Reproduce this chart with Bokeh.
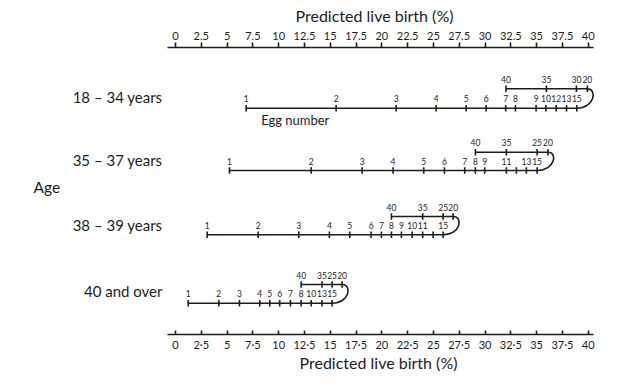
from bokeh.plotting import figure
from bokeh.models import (ColumnDataSource, LinearAxis, FixedTicker, Range1d,
                          LabelSet, Label, Title)
from bokeh.core.properties import value
from bokeh.embed import file_html
from bokeh.resources import INLINE

# ---------------- data ----------------
AGE_GROUPS = ["18 \u2013 34 years", "35 \u2013 37 years", "38 \u2013 39 years", "40 and over"]

# lower arm of each egg-number scale: egg count label and predicted live birth (%)
EGG_LOWER_LABELS = [
    ["1", "2", "3", "4", "5", "6", "7", "8", "9", "10", "12", "13", "15"],
    ["1", "2", "3", "4", "5", "6", "7", "8", "9", "11", "", "13", "15"],
    ["1", "2", "3", "4", "5", "6", "7", "8", "9", "10", "11", "", "15"],
    ["1", "2", "3", "4", "5", "6", "7", "8", "10", "13", "15"],
]
EGG_LOWER_PCT = [
    [6.85, 15.57, 21.39, 25.26, 28.17, 30.11, 32.0, 32.95, 34.95, 35.9, 36.9, 37.9, 38.9],
    [5.23, 13.15, 18.09, 21.09, 24.06, 26.07, 28.03, 29.07, 29.97, 32.07, 33.04, 34.01, 35.05],
    [3.07, 8.01, 11.95, 14.92, 16.89, 18.96, 19.96, 20.93, 21.9, 22.94, 23.96, 24.97, 25.94],
    [1.23, 4.2, 6.2, 8.17, 9.14, 10.1, 11.14, 12.18, 13.15, 14.2, 15.18],
]
# upper (returning) arm: egg counts 40 .. 20
EGG_UPPER_LABELS = [
    ["40", "35", "30", "20"],
    ["40", "35", "25", "20"],
    ["40", "35", "25", "20"],
    ["40", "35", "25", "20"],
]
EGG_UPPER_PCT = [
    [32.03, 35.95, 38.86, 39.92],
    [29.07, 32.07, 35.05, 36.1],
    [20.93, 23.96, 25.94, 26.91],
    [12.18, 14.2, 15.18, 16.15],
]

AXIS_TICKS = [0, 2.5, 5, 7.5, 10, 12.5, 15, 17.5, 20, 22.5, 25, 27.5, 30, 32.5, 35, 37.5, 40]
TOP_TICK_LABELS = ["0", "2.5", "5", "7.5", "10", "12.5", "15", "17.5", "20", "22.5",
                   "25", "27.5", "30", "32.5", "35", "37.5", "40"]
BOTTOM_TICK_LABELS = ["0", "2\u00b75", "5", "7\u00b75", "10", "12\u00b75", "15", "17\u00b75", "20",
                      "22\u00b75", "25", "27\u00b75", "30", "32\u00b75", "35", "37\u00b75", "40"]
AXIS_TITLE = "Predicted live birth (%)"

# ---------------- layout / style ----------------
FONT = "Lato"
INK = "#1c1c1c"
LW = 1.6
AXIS_BOUNDS = (-0.75, 40.54)
ROW_MAIN_Y = [107.7, 170.0, 234.3, 302.7]     # vertical layout (screen-like units)
ROW_UPPER_Y = [88.3, 151.7, 216.0, 284.0]
ROW_LABEL_Y = [96.0, 159.3, 224.3, 290.7]
TICK_HALF = 3.2
LABEL_GAP = 9.5
CURVE_OUT0 = 1.7
CURVE_OUT1 = 1.0

p = figure(width=630, height=388, output_backend="svg", toolbar_location=None,
           x_range=Range1d(-16.96, 44.10), y_range=Range1d(334, 47),
           x_axis_location=None, y_axis_location=None,
           min_border_left=0, min_border_right=0,
           min_border_top=47, min_border_bottom=54)
p.outline_line_color = None
p.grid.visible = False
p.background_fill_color = "white"
p.border_fill_color = "white"


def make_axis(labels, loc):
    ax = LinearAxis(ticker=FixedTicker(ticks=AXIS_TICKS), bounds=AXIS_BOUNDS,
                    major_label_overrides={t: s for t, s in zip(AXIS_TICKS, labels)})
    ax.axis_line_color = INK
    ax.axis_line_width = LW
    ax.major_tick_line_color = INK
    ax.major_tick_line_width = LW
    ax.minor_tick_line_color = None
    ax.major_label_text_font = FONT
    ax.major_label_text_font_size = "11px"
    ax.major_label_text_color = INK
    if loc == "above":
        ax.major_tick_out = 5
        ax.major_tick_in = 0
        ax.major_label_standoff = 3
    else:
        ax.major_tick_out = 0
        ax.major_tick_in = 4
        ax.major_label_standoff = 3
    p.add_layout(ax, loc)


def make_title(loc, standoff, left):
    t = Title(text=AXIS_TITLE, align="left", offset=left, standoff=standoff,
              text_font=FONT, text_font_size="16px", text_font_style="normal",
              text_color=INK)
    p.add_layout(t, loc)


make_axis(TOP_TICK_LABELS, "above")
make_axis(BOTTOM_TICK_LABELS, "below")
p.title.visible = False
make_title("above", 7, 295)
make_title("below", -5, 299)

for i in range(len(AGE_GROUPS)):
    lo = EGG_LOWER_PCT[i]
    up = EGG_UPPER_PCT[i]
    ym = ROW_MAIN_Y[i]
    yu = ROW_UPPER_Y[i]
    # arms
    p.segment(x0=[min(lo), min(up)], y0=[ym, yu], x1=[max(lo), max(up)], y1=[ym, yu],
              line_color=INK, line_width=LW)
    # ticks
    xs = lo + up
    ys = [ym] * len(lo) + [yu] * len(up)
    p.segment(x0=xs, x1=xs, y0=[y - TICK_HALF for y in ys], y1=[y + TICK_HALF for y in ys],
              line_color=INK, line_width=LW)
    # tick labels
    p.text(x=xs, y=[y - LABEL_GAP for y in ys], text=EGG_LOWER_LABELS[i] + EGG_UPPER_LABELS[i],
           text_align="center", text_baseline="middle", text_font=value(FONT),
           text_font_size="8.5px", text_color=INK)
    # turning curve from lower arm end (15) to upper arm end (20)
    x0 = lo[-1]
    x1 = up[-1]
    p.bezier(x0=[x0], y0=[ym], x1=[x1], y1=[yu],
             cx0=[x0 + CURVE_OUT0], cy0=[ym], cx1=[x1 + CURVE_OUT1], cy1=[yu],
             line_color=INK, line_width=LW)

p.text(x=[EGG_LOWER_PCT[0][0] + 1.45], y=[ROW_MAIN_Y[0] + 12], text=["Egg number"],
       text_align="left", text_baseline="middle", text_font=value(FONT),
       text_font_size="13px", text_color=INK)

row_src = ColumnDataSource(dict(x=[-1.26] * len(AGE_GROUPS), y=ROW_LABEL_Y, text=AGE_GROUPS))
p.add_layout(LabelSet(x="x", y="y", text="text", source=row_src, text_align="right",
                      text_baseline="middle", text_font=value(FONT), text_font_size="15px",
                      text_color=INK))
p.add_layout(Label(x=-13.76, y=186, text="Age", text_align="left", text_baseline="middle",
                   text_font=FONT, text_font_size="15.5px", text_color=INK))

open("out.html", "w").write(file_html(p, INLINE))
